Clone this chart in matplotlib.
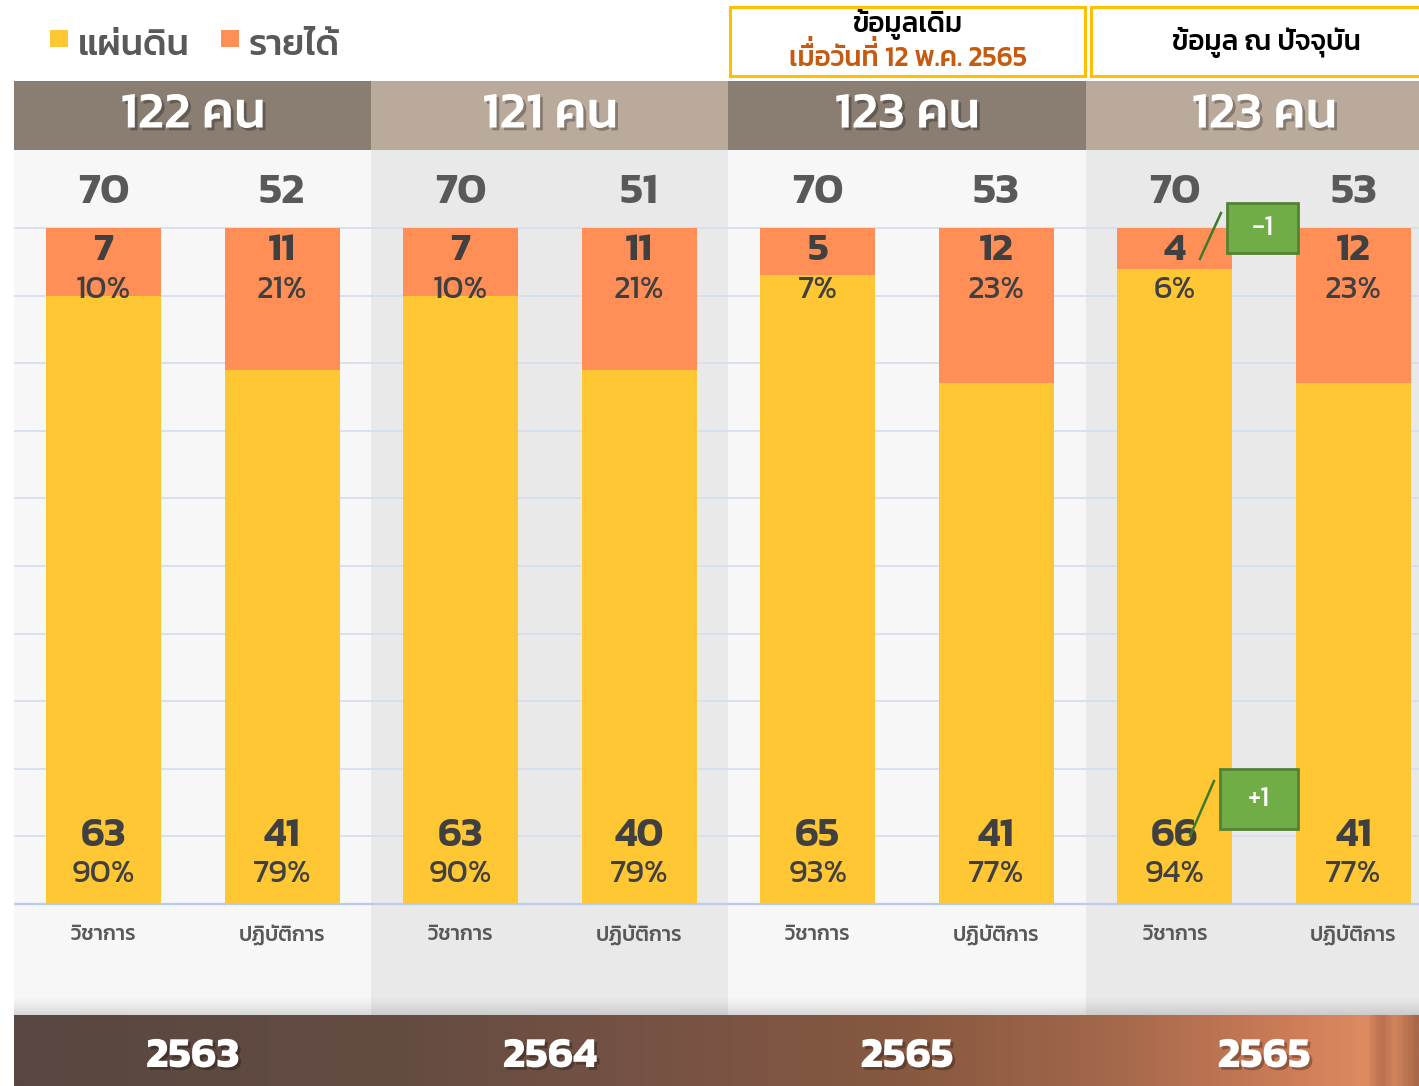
import numpy as np
import matplotlib
matplotlib.use("Agg")
import matplotlib.pyplot as plt
import matplotlib.patheffects as pe
from matplotlib.patches import Rectangle
from matplotlib.colors import LinearSegmentedColormap
from matplotlib.font_manager import FontProperties

# ---- data ----
years = ['2563', '2564', '2565', '2565']
headcount = [122, 121, 123, 123]
cats = ['วิชาการ', 'ปฏิบัติการ']
land = [63, 41, 63, 40, 65, 41, 66, 41]          # แผ่นดิน
income = [7, 11, 7, 11, 5, 12, 4, 12]            # รายได้
land_pct = [90, 79, 90, 79, 93, 77, 94, 77]
income_pct = [10, 21, 10, 21, 7, 23, 6, 23]
change_bar = 6
change_income = '-1'
change_land = '+1'

totals = [a + b for a, b in zip(land, income)]

# colours
c_land = '#FFC734'
c_inc = '#FF8F57'
c_dark = '#404040'
c_grey = '#595959'
c_hdr = ['#8A7D72', '#B9AA9B', '#8A7D72', '#B9AA9B']
c_pan = ['#F7F7F7', '#E9E9E9', '#F7F7F7', '#E9E9E9']

plt.rcParams['font.family'] = ['Kanit', 'DejaVu Sans']

fig = plt.figure(figsize=(14.19, 10.86), dpi=100)
ax = fig.add_axes([0, 0, 1, 1])
ax.set_xlim(-0.5796, 7.367)
ax.set_ylim(-26.92, 133.73)
ax.axis('off')
rend = fig.canvas.get_renderer()
PX = 178.57   # pixels per bar slot

def Y(py):
    # pixel row -> percent units of the axes
    return (904 - py) / 6.76

UPPER = '\u0e31\u0e34\u0e35\u0e36\u0e37'
TONES = '\u0e48\u0e49\u0e4a\u0e4b'

def thai_text(xc, py_base, s, size, **kw):
    # no shaping in matplotlib: tone marks after an upper vowel are drawn raised by hand
    prop = FontProperties(family=['Kanit', 'DejaVu Sans'], size=size,
                          weight=kw.get('fontweight', 'normal'))
    s2, marks = '', []
    for k, ch in enumerate(s):
        if ch in TONES and k > 0 and s[k - 1] in UPPER:
            marks.append((len(s2) - 2, ch))
        else:
            s2 += ch
    ax.text(xc, Y(py_base), s2, ha='center', va='baseline', fontsize=size, **kw)
    wid = lambda t: rend.get_text_width_height_descent(t, prop, ismath=False)[0] if t else 0
    left = (xc * PX + 103.5) - wid(s2) / 2
    for j, ch in marks:
        # mark sits on a space so the text has a width; pen end of the space = right edge of base
        pen = left + wid(s2[:j + 1])
        t = ax.text((pen - 103.5) / PX, Y(py_base) + 0.24 * size * 100 / 72 / 6.76, ' ' + ch,
                    ha='right', va='baseline', fontsize=size, **kw)

x = np.arange(len(land))
shadow = [pe.withSimplePatchShadow(offset=(2, -2), shadow_rgbFace='k', alpha=0.28)]

# panels
for g in range(4):
    ax.add_patch(Rectangle((2 * g - 0.5, Y(1015)), 2, Y(150) - Y(1015),
                           color=c_pan[g], zorder=0, lw=0))
    ax.add_patch(Rectangle((2 * g - 0.5, Y(150)), 2, Y(81) - Y(150),
                           color=c_hdr[g], zorder=3, lw=0))
    ax.text(2 * g + 0.5, Y(116), '%d คน' % headcount[g], ha='center', va='center',
            color='white', fontsize=37, fontweight='medium', zorder=5, path_effects=shadow)

# soft shadow above the bottom band
grad = np.zeros((30, 1, 4))
grad[:, 0, 3] = np.linspace(0.0, 0.13, 30) ** 1.5 / 0.13 ** 0.5
ax.imshow(grad, extent=(-0.5, 7.5, Y(1015), Y(995)), aspect='auto', zorder=1,
          interpolation='bilinear')

# grid lines
ax.hlines(np.arange(10, 101, 10), -0.5, 7.5, color='#D3DDEF', lw=1.2, zorder=1)
ax.hlines(0, -0.5, 7.5, color='#B7CDEA', lw=1.6, zorder=1)

# bars
ax.bar(x, land_pct, width=0.644, color=c_land, zorder=2)
ax.bar(x, income_pct, bottom=land_pct, width=0.644, color=c_inc, zorder=2)

for i in x:
    ax.text(i, Y(193), str(totals[i]), ha='center', va='center', color=c_grey,
            fontsize=32, fontweight='semibold', zorder=4)
    ax.text(i, Y(251), str(income[i]), ha='center', va='center', color=c_dark,
            fontsize=29, fontweight='semibold', zorder=4)
    ax.text(i, Y(290), '%d%%' % income_pct[i], ha='center', va='center', color=c_dark,
            fontsize=23.5, zorder=4)
    ax.text(i, Y(836), str(land[i]), ha='center', va='center', color=c_dark,
            fontsize=29.5, fontweight='semibold', zorder=4)
    ax.text(i, Y(874), '%d%%' % land_pct[i], ha='center', va='center', color=c_dark,
            fontsize=23.5, zorder=4)
    ax.text(i, Y(935), cats[i % 2], ha='center', va='center', color=c_grey,
            fontsize=15, fontweight='medium', zorder=4)

# change markers
def change_box(x0, x1, py0, py1, lx, ly, label):
    ax.add_patch(Rectangle((x0, Y(py1)), x1 - x0, Y(py0) - Y(py1), facecolor='#70AD47',
                           edgecolor='#548235', lw=2, zorder=6))
    ax.plot(lx, ly, color='#3F7A2A', lw=1.8, zorder=6)
    ax.text((x0 + x1) / 2, Y((py0 + py1) / 2), label, ha='center', va='center',
            color='white', fontsize=20, zorder=7)

xb = change_bar
change_box(xb + 0.292, xb + 0.689, 203, 253, [xb + 0.258, xb + 0.140], [Y(213), Y(259)], change_income)
change_box(xb + 0.253, xb + 0.689, 769, 829, [xb + 0.219, xb + 0.085], [Y(781), Y(836)], change_land)

# bottom band with years
cmap = LinearSegmentedColormap.from_list('band', [
    (0.0, '#574740'), (0.28, '#654C42'), (0.5, '#7A5444'), (0.63, '#865840'),
    (0.77, '#A0664A'), (0.91, '#CC7C57'), (0.965, '#DE8B61'), (0.975, '#B86F4D'),
    (0.985, '#D2855D'), (1.0, '#A96849')])
band = np.linspace(0, 1, 512).reshape(1, -1)
ax.imshow(band, cmap=cmap, extent=(-0.5, 7.367, Y(1086), Y(1015)), aspect='auto',
          zorder=3, interpolation='bilinear')
for g in range(4):
    ax.text(2 * g + 0.5, Y(1057), years[g], ha='center', va='center', color='white',
            fontsize=31, fontweight='bold', zorder=5, path_effects=shadow)

# legend
for lx, col, lab in [(50, c_land, 'แผ่นดิน'), (221, c_inc, 'รายได้')]:
    x0 = (lx - 103.5) / PX
    ax.add_patch(Rectangle((x0, Y(47)), 18 / PX, Y(30) - Y(47), color=col, lw=0))
    ax.text(x0 + 28 / PX, Y(46), lab, ha='left', va='center', color=c_grey,
            fontsize=26, fontweight='medium')

# info boxes at the top
ax.add_patch(Rectangle((3.510, Y(76)), 5.496 - 3.510, Y(7) - Y(76), facecolor='white',
                       edgecolor='#FFC000', lw=2.2, zorder=3))
ax.add_patch(Rectangle((5.530, Y(76)), 7.5 - 5.530, Y(7) - Y(76), facecolor='white',
                       edgecolor='#FFC000', lw=2.2, zorder=3))
thai_text(4.503, 32, 'ข้อมูลเดิม', 20, color='black', fontweight='medium', zorder=4)
thai_text(4.503, 66, 'เมื่อวันที่ 12 พ.ค. 2565', 20, color='#C55A11', fontweight='medium', zorder=4)
thai_text(6.51, 50, 'ข้อมูล ณ ปัจจุบัน', 20, color='black', fontweight='medium', zorder=4)

fig.savefig('out.png', dpi=100)
